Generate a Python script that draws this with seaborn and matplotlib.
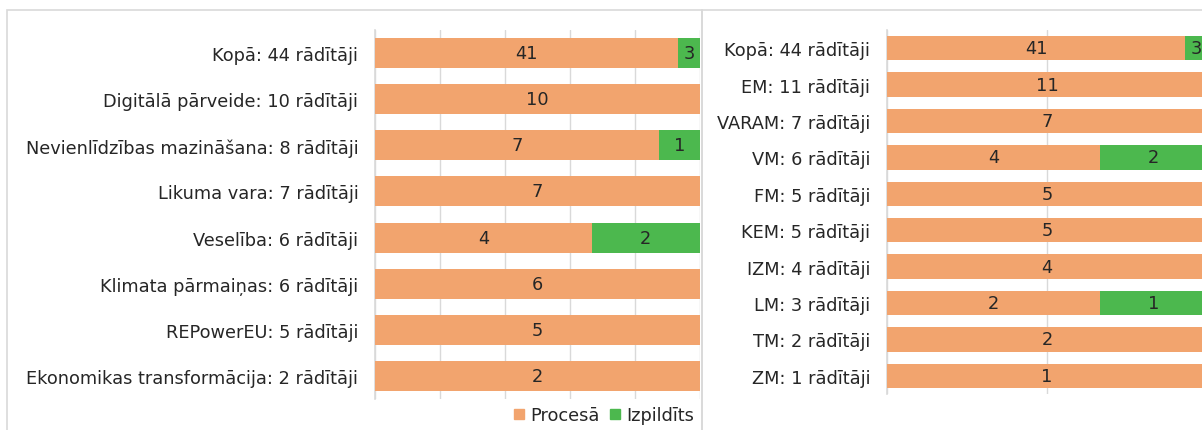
import matplotlib
matplotlib.use("Agg")
import matplotlib.pyplot as plt
from matplotlib.patches import Rectangle
from matplotlib.lines import Line2D
import seaborn as sns
import pandas as pd

# ---- data ----
left_categories = ["Kopā: 44 rādītāji", "Digitālā pārveide: 10 rādītāji",
                   "Nevienlīdzības mazināšana: 8 rādītāji", "Likuma vara: 7 rādītāji",
                   "Veselība: 6 rādītāji", "Klimata pārmaiņas: 6 rādītāji",
                   "REPowerEU: 5 rādītāji", "Ekonomikas transformācija: 2 rādītāji"]
left_process = [41, 10, 7, 7, 4, 6, 5, 2]
left_done = [3, 0, 1, 0, 2, 0, 0, 0]

right_categories = ["Kopā: 44 rādītāji", "EM: 11 rādītāji", "VARAM: 7 rādītāji",
                    "VM: 6 rādītāji", "FM: 5 rādītāji", "KEM: 5 rādītāji",
                    "IZM: 4 rādītāji", "LM: 3 rādītāji", "TM: 2 rādītāji", "ZM: 1 rādītāji"]
right_process = [41, 11, 7, 4, 5, 5, 4, 2, 2, 1]
right_done = [3, 0, 0, 2, 0, 0, 0, 1, 0, 0]

series_names = ["Procesā", "Izpildīts"]

ORANGE = "#F2A46E"
GREEN = "#4CB84E"
GRID = "#D9D9D9"
TEXT = "#262626"
FS = 12.8

sns.set_theme(style="white")
plt.rcParams['font.family'] = ['DejaVu Sans']

W, H = 1202, 431
fig = plt.figure(figsize=(W / 100, H / 100), dpi=100)

# chart borders
fig.add_artist(Rectangle((7 / W, -0.1), (702 - 7) / W, (H - 11) / H + 0.1,
                         transform=fig.transFigure, fill=False, edgecolor=GRID, lw=1.2))
fig.add_artist(Rectangle((702 / W, -0.1), 0.5, (H - 11) / H + 0.1,
                         transform=fig.transFigure, fill=False, edgecolor=GRID, lw=1.2))


def panel(rect, cats, proc, done, grid_step, bar_w, fs):
    ax = fig.add_axes(rect)
    df = pd.DataFrame({"cat": cats, "proc": proc, "done": done})
    df["total"] = df["proc"] + df["done"]
    df["p_share"] = df["proc"] / df["total"]
    df["full"] = [1.0 if d > 0 else 0.0 for d in df["done"]]
    sns.barplot(data=df, y="cat", x="full", color=GREEN, saturation=1, width=bar_w,
                ax=ax, orient="h", zorder=2, linewidth=0)
    sns.barplot(data=df, y="cat", x="p_share", color=ORANGE, saturation=1, width=bar_w,
                ax=ax, orient="h", zorder=3, linewidth=0)
    for i, row in df.iterrows():
        ax.text(row["p_share"] / 2, i, str(row["proc"]), ha="center", va="center",
                fontsize=fs, color=TEXT, zorder=5)
        if row["done"] > 0:
            ax.text((1 + row["p_share"]) / 2, i, str(row["done"]), ha="center", va="center",
                    fontsize=fs, color=TEXT, zorder=5)
    ax.set_xlim(0, 1)
    ax.set_ylim(len(cats) - 0.5, -0.5)
    ax.set_xlabel("")
    ax.set_ylabel("")
    ax.set_xticks([i * grid_step for i in range(int(round(1 / grid_step)) + 1)])
    ax.set_xticklabels([])
    ax.grid(axis="x", color=GRID, lw=1, zorder=0)
    ax.set_axisbelow(True)
    for s in ["top", "right", "bottom"]:
        ax.spines[s].set_visible(False)
    ax.spines["left"].set_color(GRID)
    ax.spines["left"].set_linewidth(1.2)
    ax.tick_params(axis="y", length=0, pad=12, labelsize=fs, labelcolor=TEXT)
    ax.tick_params(axis="x", length=0)
    return ax


axL = panel([375 / W, (H - 400) / H, 325 / W, 369 / H],
            left_categories, left_process, left_done, 0.2, 0.65, FS)
axR = panel([887 / W, (H - 395) / H, 320 / W, 364 / H],
            right_categories, right_process, right_done, 0.5, 0.67, FS)

handles = [Line2D([], [], marker="s", ls="", color=ORANGE, markersize=7),
           Line2D([], [], marker="s", ls="", color=GREEN, markersize=7)]
fig.legend(handles, series_names, loc="center right", bbox_to_anchor=(694 / W, (H - 416) / H),
           ncol=2, frameon=False, fontsize=FS, handlelength=0.6, handletextpad=0.3,
           columnspacing=0.6, labelcolor=TEXT, borderpad=0, borderaxespad=0)

fig.savefig("out.png", dpi=100)
